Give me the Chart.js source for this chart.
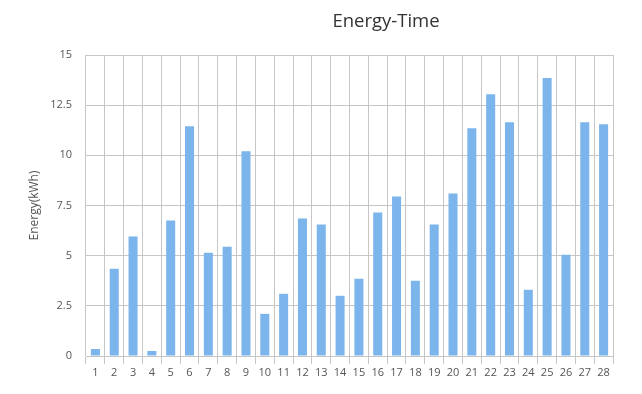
<!DOCTYPE html>
<html>
<head>
<meta charset="utf-8">
<title>Energy-Time</title>
<script src="https://cdn.jsdelivr.net/npm/chart.js@4"></script>
<style>
    body { margin: 0; background: #fff; }
    #wrap { position: relative; width: 642px; height: 394px; }
    #chartTitle {
        position: absolute;
        left: 286px;
        top: 11px;
        width: 200px;
        text-align: center;
        font: 18.5px "Open Sans", sans-serif;
        line-height: 18px;
        color: #333;
    }
</style>
</head>
<body>
<div id="wrap">
    <div id="chartTitle">Energy-Time</div>
    <canvas id="myChart" width="642" height="394"></canvas>
</div>
<script>

const hours = [
    "1", "2", "3", "4", "5", "6", "7", "8", "9", "10",
    "11", "12", "13", "14", "15", "16", "17", "18", "19", "20",
    "21", "22", "23", "24", "25", "26", "27", "28"
];

const energy = [
    0.35, 4.35, 5.95, 0.25, 6.75, 11.45, 5.15, 5.45, 10.2, 2.1,
    3.1, 6.85, 6.55, 3.0, 3.85, 7.15, 7.95, 3.75, 6.55, 8.1,
    11.35, 13.05, 11.65, 3.3, 13.85, 5.05, 11.65, 11.55
];

const yTicks = [0, 2.5, 5, 7.5, 10, 12.5, 15];

const gridColor = "#c6c6c6";
const labelFont = { family: "Open Sans", size: 11 };

const ctx = document.getElementById("myChart");

const chart = new Chart(ctx, {

    type: "bar",

    data: {
        labels: hours,
        datasets: [{
            label: "Energy",
            data: energy,
            backgroundColor: "#7cb5ec",
            categoryPercentage: 1,
            barPercentage: 0.48
        }]
    },

    options: {
        responsive: false,
        animation: false,

        layout: {
            padding: { top: 55, right: 29, bottom: 0, left: 0 }
        },

        plugins: {
            legend: { display: false },
            title: { display: false },
            tooltip: { enabled: false }
        },

        scales: {

            x: {
                offset: true,
                grid: {
                    offset: true,
                    color: gridColor,
                    tickLength: 8
                },
                border: { color: gridColor },
                ticks: {
                    color: "#555",
                    font: labelFont,
                    padding: 2,
                    maxRotation: 0,
                    autoSkip: false
                },
                afterFit: function (scale) {
                    scale.height = 38;
                }
            },

            y: {
                min: 0,
                max: 15,
                grid: {
                    color: gridColor,
                    drawTicks: false
                },
                border: { display: false },
                afterBuildTicks: function (scale) {
                    scale.ticks = yTicks.map(v => ({ value: v }));
                },
                ticks: {
                    color: "#555",
                    font: labelFont,
                    padding: 14
                },
                title: {
                    display: true,
                    text: "Energy(kWh)",
                    color: "#555",
                    font: { family: "Open Sans", size: 12 },
                    padding: { top: 27, bottom: 0 }
                },
                afterFit: function (scale) {
                    scale.width = 86;
                }
            }
        }
    }
});
</script>
</body>
</html>
